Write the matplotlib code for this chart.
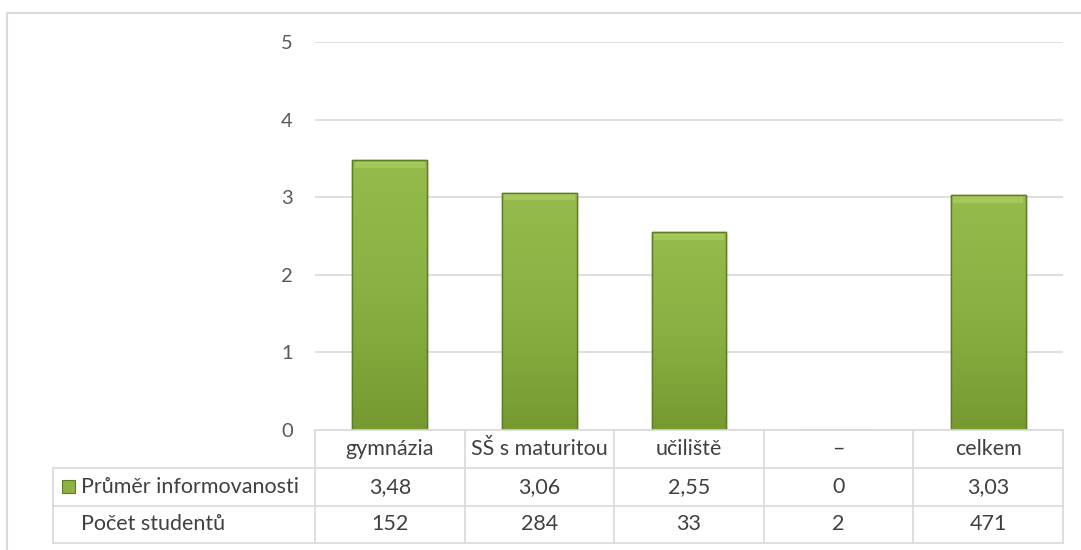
import matplotlib
matplotlib.use("Agg")
import matplotlib.pyplot as plt
import numpy as np
from matplotlib.transforms import blended_transform_factory
from matplotlib.patches import Rectangle
from matplotlib.colors import LinearSegmentedColormap

categories = ["gymnázia", "SŠ s maturitou", "učiliště", "–", "celkem"]
prumer = [3.48, 3.06, 2.55, 0, 3.03]
pocet = [152, 284, 33, 2, 471]
row_labels = ["Průměr informovanosti", "Počet studentů"]
yticks = [0, 1, 2, 3, 4, 5]

W, H = 1081, 550
fig = plt.figure(figsize=(W / 100, H / 100), dpi=100)
plt.rcParams['font.family'] = ['Lato', 'DejaVu Sans']

def fx(x):
    return x / W

def fy(y):
    return 1 - y / H

# plot area in pixel coordinates
L, R, T, B = 315, 1063, 42, 430
ax = fig.add_axes([fx(L), fy(B), fx(R) - fx(L), fy(T) - fy(B)])
ax.set_xlim(-0.5, len(categories) - 0.5)
ax.set_ylim(0, 5)
for s in ax.spines.values():
    s.set_visible(False)
ax.set_xticks([])
ax.set_yticks(yticks)
ax.tick_params(axis='y', length=0, pad=16, labelsize=14.5, labelcolor='#595959')
ax.yaxis.grid(True, color='#d9d9d9', linewidth=1.2)
ax.set_axisbelow(True)

grad = LinearSegmentedColormap.from_list('g', ['#779a30', '#8ab043', '#96bb4c'])
x = np.arange(len(categories))
bars = ax.bar(x, prumer, width=0.5, color='#8db243', edgecolor='#5d7d24', linewidth=1.0, zorder=3)
for b in bars:
    h = b.get_height()
    if h <= 0:
        continue
    x0 = b.get_x()
    w = b.get_width()
    img = np.linspace(0, 1, 100).reshape(-1, 1)
    im = ax.imshow(img, cmap=grad, extent=(x0, x0 + w, 0, h), origin='lower',
                   aspect='auto', zorder=3.5, interpolation='bicubic')
    im.set_clip_path(b)
    # bevel highlight at top
    ax.add_patch(Rectangle((x0 + w * 0.03, h - 0.1), w * 0.94, 0.08,
                           facecolor='#a9cc5e', edgecolor='none', zorder=3.6, alpha=0.8))
    ax.add_patch(Rectangle((x0, 0), w, h, facecolor='none', edgecolor='#5d7d24',
                           linewidth=1.0, zorder=3.8))
ax.set_xlim(-0.5, len(categories) - 0.5)
ax.set_ylim(0, 5)

# outer frame (cropped on right/bottom)
fig.add_artist(plt.Line2D([fx(7), fx(1081)], [fy(13), fy(13)], color='#d9d9d9', lw=1.5))
fig.add_artist(plt.Line2D([fx(7), fx(7)], [fy(13), fy(550)], color='#d9d9d9', lw=1.5))

# data table
tb = blended_transform_factory(ax.transData, fig.transFigure)
lc = '#d9d9d9'
rows_y = [430, 468, 506, 543]
n = len(categories)
for i in range(n + 1):
    fig.add_artist(plt.Line2D([i - 0.5, i - 0.5], [fy(430), fy(543)], transform=tb, color=lc, lw=1.2))
fig.add_artist(plt.Line2D([fx(53), fx(53)], [fy(468), fy(543)], color=lc, lw=1.2))
fig.add_artist(plt.Line2D([fx(L), fx(R)], [fy(430), fy(430)], color=lc, lw=1.2))
for yy in rows_y[1:]:
    fig.add_artist(plt.Line2D([fx(53), fx(R)], [fy(yy), fy(yy)], color=lc, lw=1.2))

tc = '#404040'
fs = 15.5
for i, c in enumerate(categories):
    fig.text(i, fy(449), c, transform=tb, ha='center', va='center', fontsize=fs, color=tc)
for i, v in enumerate(prumer):
    s = "0" if v == 0 else f"{v:.2f}".replace('.', ',')
    fig.text(i, fy(487), s, transform=tb, ha='center', va='center', fontsize=fs, color=tc)
for i, v in enumerate(pocet):
    fig.text(i, fy(524), str(v), transform=tb, ha='center', va='center', fontsize=fs, color=tc)

fig.add_artist(Rectangle((fx(62), fy(493)), fx(13), fy(480) - fy(493), transform=fig.transFigure,
                         facecolor='#8db243', edgecolor='#5d7d24', lw=0.8))
fig.text(fx(81), fy(487), row_labels[0], ha='left', va='center', fontsize=fs, color=tc)
fig.text(fx(81), fy(524), row_labels[1], ha='left', va='center', fontsize=fs, color=tc)

fig.savefig("out.png", dpi=100)
